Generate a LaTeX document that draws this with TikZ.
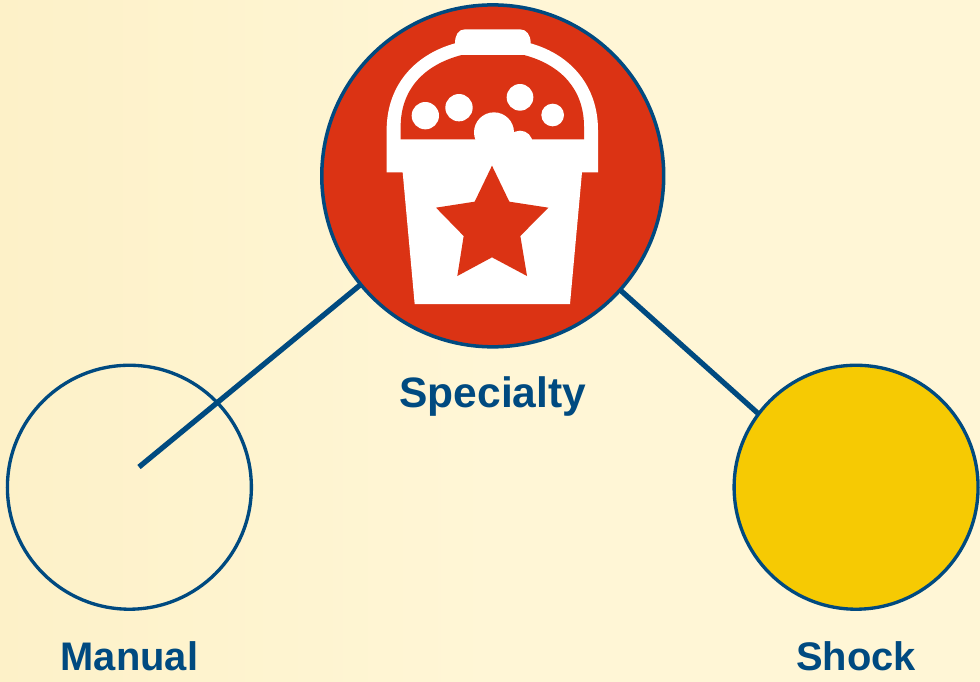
\documentclass[tikz,border=0pt]{standalone}
\usepackage{fontspec}
\setmainfont{Liberation Sans}
\usetikzlibrary{positioning}
\pgfdeclarelayer{background}
\pgfsetlayers{background,main}
\definecolor{bgedge}{HTML}{FDF1C8}
\definecolor{bgmid}{HTML}{FFF6D6}
\definecolor{rimblue}{HTML}{004A80}
\definecolor{bucketred}{HTML}{DB3314}
\definecolor{shockyellow}{HTML}{F6CA03}
\tikzset{ring/.style={circle,draw=rimblue,line width=1.9pt,inner sep=0pt,minimum size=4.88cm},
specialtyring/.style={ring,fill=bucketred,line width=2pt,minimum size=6.84cm},
shockring/.style={ring,fill=shockyellow},
tag/.style={inner sep=0pt,text=rimblue,font=\fontsize{22.7}{24}\selectfont\bfseries},
bigtag/.style={tag,font=\fontsize{24.2}{24}\selectfont\bfseries},
spoke/.style={draw=rimblue,line width=3pt}}

\begin{document}
\begin{tikzpicture}[x=0.02cm,y=-0.02cm]
  \useasboundingbox (0,0) rectangle (980,681);
  \node (rings) at (492.75,307) [matrix,matrix anchor=center,column sep=1.34cm,row sep=0.3cm,ampersand replacement=\&] {
    \& \node (specialty) [specialtyring] {}; \& \\
    \node (manual) [ring] {}; \& \& \node (shock) [shockring] {}; \\
  };
  \node (specialtytag) [bigtag,below=16pt of specialty] {Specialty};
  \node (manualtag) [tag,below=17pt of manual] {Manual};
  \node (shocktag) [tag,below=17pt of shock] {Shock};
  \coordinate (manualend) at (139,467);
  \coordinate (shockend) at (800,451);
  \begin{pgfonlayer}{background}
    \shade [left color=bgedge,right color=bgmid,middle color=bgmid] (0,0) rectangle (980,681);
    \draw [spoke] (specialty.center) -- (manualend);
    \draw [spoke] (specialty.center) -- (shockend);
  \end{pgfonlayer}
  % bucket, traced in 3x crop units
  \begin{scope}[shift={(320,0)},scale=1/3]
    \fill [white] (405,130) .. controls (405,105) and (415,88) .. (435,88) -- (600,88)
      .. controls (620,88) and (632,105) .. (632,130)
      .. controls (755,165) and (834,260) .. (834,390) -- (834,517) -- (786,517)
      -- (750,912) -- (284,912) -- (248,517) -- (200,517) -- (200,390)
      .. controls (200,260) and (280,165) .. (405,130) -- cycle;
    \fill [bucketred] (242,418) -- (242,380) .. controls (242,270) and (310,195) .. (425,165)
      -- (612,165) .. controls (725,195) and (792,270) .. (792,380) -- (792,418) -- cycle;
    \fill [white] (316,347) circle (41) (417,323) circle (41) (600,292) circle (40)
      (698,345) circle (34);
    \fill [white] (522,397) circle (60) (600,430) circle (38);
    \fill [bucketred] (516,497) -- (568,605) -- (685,623) -- (601,708) -- (621,828)
      -- (516,772) -- (412,828) -- (431,708) -- (348,623) -- (464,605) -- cycle;
  \end{scope}
\end{tikzpicture}
\end{document}
